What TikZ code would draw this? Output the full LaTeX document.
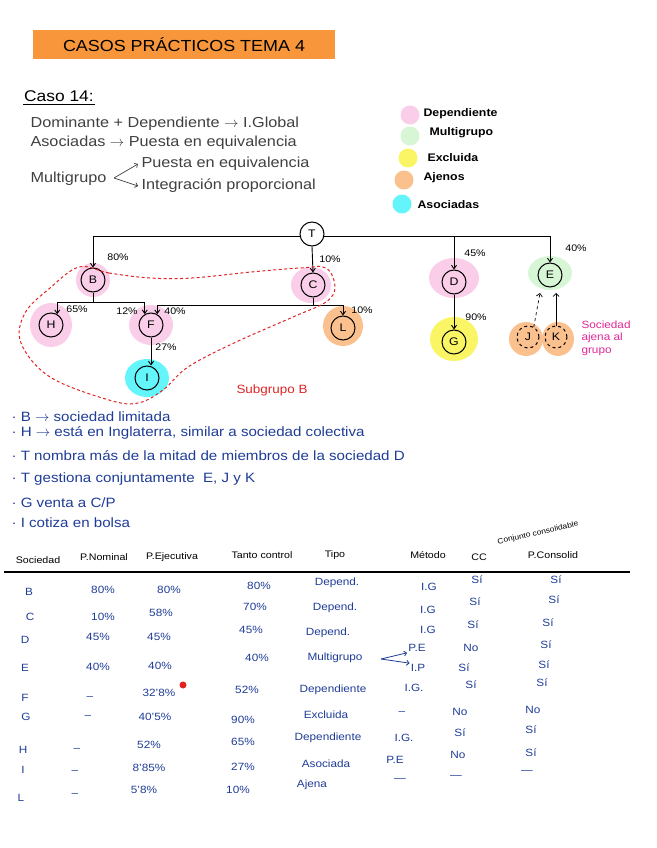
\documentclass[tikz,border=0pt]{standalone}
\usepackage{fontspec}
\setmainfont{Liberation Sans}[FakeStretch=1.12]
\usetikzlibrary{arrows.meta,backgrounds}
\definecolor{titleorange}{RGB}{248,150,60}
\definecolor{pinkblob}{RGB}{250,205,232}
\definecolor{greenblob}{RGB}{214,246,214}
\definecolor{yellowblob}{RGB}{250,245,100}
\definecolor{orangeblob}{RGB}{250,192,142}
\definecolor{cyanblob}{RGB}{100,245,250}
\definecolor{notablue}{RGB}{30,60,150}
\definecolor{subred}{RGB}{225,35,35}
\definecolor{ajenapink}{RGB}{225,40,150}

\begin{document}
\begin{tikzpicture}[x=1pt, y=-1pt,
    soc/.style={draw, circle, line width=1pt, minimum size=24pt, inner sep=0pt, font=\fontsize{11}{11}\selectfont},
    socajena/.style={soc, dashed, minimum size=22pt},
    arrow/.style={-{Straight Barb[length=3.5pt,width=5pt]}, line width=0.9pt},
    tramo/.style={line width=0.9pt},
    pct/.style={font=\fontsize{9.5}{9.5}\selectfont},
    apunte/.style={anchor=west, text=black!75, font=\fontsize{14.5}{14.5}\selectfont},
    nota/.style={anchor=west, text=notablue, font=\fontsize{13.5}{13.5}\selectfont},
    cell/.style={text=notablue, inner sep=1pt, font=\fontsize{10.5}{10.5}\selectfont},
    head/.style={inner sep=1pt, font=\fontsize{9.5}{9.5}\selectfont},
    leyenda/.style={circle, minimum size=19pt, inner sep=0pt, fill=#1},
    leytxt/.style={anchor=west, font=\bfseries\fontsize{11}{11}\selectfont},
    subgrupo/.style={subred, line width=1pt, dash pattern=on 3pt off 2.5pt}
]
    \useasboundingbox (0,0) rectangle (656,848);

    % Title
    \node[fill=titleorange, minimum width=302pt, minimum height=29pt, font=\fontsize{16}{16}\selectfont] (titulo) at (184,45) {CASOS PRÁCTICOS TEMA 4};

    % Caso 14
    \node[anchor=west, inner sep=1pt, font=\fontsize{15.5}{15.5}\selectfont] (caso) at (23,96) {Caso 14:};
    \draw[line width=1pt] ([yshift=-2pt]caso.south west) -- ([yshift=-2pt]caso.south east);

    \node[apunte] (dom) at (27,124) {Dominante + Dependiente $\rightarrow$ I.Global};
    \node[apunte] (aso) at (27,143) {Asociadas $\rightarrow$ Puesta en equivalencia};
    \node[apunte] (mul) at (27,179) {Multigrupo};
    \node[apunte] (mulpe) at (138,164) {Puesta en equivalencia};
    \node[apunte] (mulip) at (138,186) {Integración proporcional};
    \coordinate (mulv) at (114,178);
    \draw[-{Straight Barb[length=2.5pt]}, black!75, line width=0.7pt] (mulv) -- (mulpe.west);
    \draw[-{Straight Barb[length=2.5pt]}, black!75, line width=0.7pt] (mulv) -- (mulip.west);

    % Legend
    \node[leyenda=pinkblob] (legdep) at (410,115) {};
    \node[leyenda=greenblob] (legmul) at (410,136) {};
    \node[leyenda=yellowblob] (legexc) at (408,158) {};
    \node[leyenda=orangeblob] (legaje) at (404,180) {};
    \node[leyenda=cyanblob] (legaso) at (402,204) {};
    \node[leytxt] (legdeptxt) at (420,114) {Dependiente};
    \node[leytxt] (legmultxt) at (426,133) {Multigrupo};
    \node[leytxt] (legexctxt) at (424,158) {Excluida};
    \node[leytxt] (legajetxt) at (420,178) {Ajenos};
    \node[leytxt] (legasotxt) at (414,205) {Asociadas};

    % Group tree
    \node[soc] (T) at (312,234) {T};
    \node[soc] (B) at (93,280) {B};
    \node[soc] (C) at (313,285) {C};
    \node[soc] (D) at (454,282) {D};
    \node[soc] (E) at (550,275) {E};
    \node[soc] (H) at (51,325) {H};
    \node[soc] (F) at (151,325) {F};
    \node[soc] (L) at (343,328) {L};
    \node[soc] (G) at (454,342) {G};
    \node[soc] (I) at (147,378) {I};
    \node[socajena] (J) at (528,337) {J};
    \node[socajena] (K) at (556,337) {K};

    \begin{scope}[on background layer]
        \fill[pinkblob] (B) ellipse (17pt and 17pt);
        \fill[pinkblob] ([xshift=-2pt]C) ellipse (20pt and 18pt);
        \fill[pinkblob] ([yshift=4pt]D) ellipse (25pt and 20pt);
        \fill[greenblob] ([yshift=2pt]E) ellipse (22pt and 17pt);
        \fill[pinkblob] (H) ellipse (21pt and 22pt);
        \fill[pinkblob] (F) ellipse (22pt and 20pt);
        \fill[orangeblob] ([yshift=2pt]L) ellipse (20pt and 20pt);
        \fill[yellowblob] ([yshift=3pt]G) ellipse (24pt and 22pt);
        \fill[cyanblob] (I) ellipse (22pt and 19pt);
        \fill[orangeblob] ([xshift=-2pt,yshift=-2pt]J) ellipse (17pt and 17pt);
        \fill[orangeblob] ([xshift=2pt,yshift=-2pt]K) ellipse (16pt and 17pt);
    \end{scope}

    \draw[arrow] (T.190) -| (B.north);
    \draw[arrow] (T.south) -- (C.north);
    \draw[arrow] (T.350) -| (D.north);
    \draw[arrow] (T.350) -| (E.north);

    \coordinate (bsplit) at (93,302);
    \draw[tramo] (B.south) -- (bsplit);
    \draw[arrow] (bsplit) -| (H.60);
    \draw[arrow] (bsplit) -| (F.120);

    \coordinate (csplit) at (313,305);
    \draw[tramo] (C.south) -- (csplit);
    \draw[arrow] (csplit) -| (F.60);
    \draw[arrow] (csplit) -| (L.north);

    \draw[arrow] (F.south) -- (F.south |- I.north);
    \draw[arrow] (D.south) -- (G.north);

    \coordinate (ejt) at (540,293);
    \coordinate (ekt) at (556,293);
    \draw[-{Straight Barb[length=3pt]}, line width=0.7pt, dashed] (J.60) -- (ejt);
    \draw[-{Straight Barb[length=3pt]}, line width=0.7pt] (K.north) -- (ekt);

    \node[pct] (pB) at (118,257) {80\%};
    \node[pct] (pC) at (330,259) {10\%};
    \node[pct] (pD) at (475,253) {45\%};
    \node[pct] (pE) at (576,248) {40\%};
    \node[pct] (pH) at (77,309) {65\%};
    \node[pct] (pFb) at (127,311) {12\%};
    \node[pct] (pFc) at (175,311) {40\%};
    \node[pct] (pL) at (362,310) {10\%};
    \node[pct] (pI) at (166,347) {27\%};
    \node[pct] (pG) at (476,317) {90\%};

    \node[anchor=west, align=left, text=ajenapink, font=\fontsize{10.5}{12.5}\selectfont] (ajenotxt) at (578,338) {Sociedad\\ajena al\\grupo};

    % Subgroup B
    \draw[subgrupo] plot[smooth cycle, tension=0.6] coordinates {(79,267) (109,273) (150,278) (192,278) (251,272) (300,268) (326,268) (335,287) (326,302) (293,317) (234,343) (188,367) (163,390) (138,403) (109,400) (50,377) (21,343) (25,313) (50,288)};
    \node[text=subred, font=\fontsize{12}{12}\selectfont] (subB) at (272,390) {Subgrupo B};

    % Notes
    \node[nota] (n1) at (8,417) {· B $\rightarrow$ sociedad limitada};
    \node[nota] (n2) at (8,433) {· H $\rightarrow$ está en Inglaterra, similar a sociedad colectiva};
    \node[nota] (n3) at (8,456) {· T nombra más de la mitad de miembros de la sociedad D};
    \node[nota] (n4) at (8,479) {· T gestiona conjuntamente \ E, J y K};
    \node[nota] (n5) at (8,503) {· G venta a C/P};
    \node[nota] (n6) at (8,523) {· I cotiza en bolsa};

    \node[rotate=13, font=\fontsize{7.5}{7.5}\selectfont] (conj) at (538,533) {Conjunto consolidable};

    % Table
    \node[head] (hSoc) at (38,560) {Sociedad};
    \node[head] (hNom) at (104,557) {P.Nominal};
    \node[head] (hEje) at (172,557) {P.Ejecutiva};
    \node[head] (hCtl) at (262,555) {Tanto control};
    \node[head] (hTip) at (335,555) {Tipo};
    \node[head] (hMet) at (428,555) {Método};
    \node[head] (hCC) at (479,557) {CC};
    \node[head] (hCon) at (553,555) {P.Consolid};
    \draw[line width=1.1pt] (4,572) -- (630,572);

    \node[cell] (socB) at (29,592) {B};  \node[cell] (nomB) at (103,590) {80\%};  \node[cell] (ejeB) at (169,590) {80\%};  \node[cell] (ctlB) at (259,586) {80\%};
    \node[cell] (tipB) at (337,583) {Depend.};  \node[cell] (metB) at (429,587) {I.G};  \node[cell] (ccB) at (477,580) {Sí};  \node[cell] (conB) at (556,580) {Sí};

    \node[cell] (socC) at (30,617) {C};  \node[cell] (nomC) at (103,617) {10\%};  \node[cell] (ejeC) at (161,613) {58\%};  \node[cell] (ctlC) at (255,607) {70\%};
    \node[cell] (tipC) at (335,608) {Depend.};  \node[cell] (metC) at (428,610) {I.G};  \node[cell] (ccC) at (475,602) {Sí};  \node[cell] (conC) at (554,600) {Sí};

    \node[cell] (socD) at (25,640) {D};  \node[cell] (nomD) at (98,637) {45\%};  \node[cell] (ejeD) at (159,637) {45\%};  \node[cell] (ctlD) at (251,630) {45\%};
    \node[cell] (tipD) at (328,633) {Depend.};  \node[cell] (metD) at (428,630) {I.G};  \node[cell] (ccD) at (473,625) {Sí};  \node[cell] (conD) at (548,623) {Sí};

    \node[cell] (socE) at (25,668) {E};  \node[cell] (nomE) at (98,667) {40\%};  \node[cell] (ejeE) at (160,666) {40\%};  \node[cell] (ctlE) at (257,658) {40\%};
    \node[cell] (tipE) at (335,658) {Multigrupo};  \node[cell] (metEa) at (417,648) {P.E};  \node[cell] (metEb) at (418,668) {I.P};
    \node[cell] (ccEa) at (471,648) {No};  \node[cell] (ccEb) at (464,668) {Sí};  \node[cell] (conEa) at (546,645) {Sí};  \node[cell] (conEb) at (544,665) {Sí};
    \coordinate (tipEv) at (381,659);
    \draw[-{Straight Barb[length=2.5pt]}, notablue, line width=0.8pt] (tipEv) -- (metEa.south west);
    \draw[-{Straight Barb[length=2.5pt]}, notablue, line width=0.8pt] (tipEv) -- (metEb.north west);

    \node[cell] (socF) at (25,698) {F};  \node[cell] (nomF) at (90,698) {–};  \node[cell] (ejeF) at (159,693) {32'8\%};  \node[cell] (ctlF) at (247,690) {52\%};
    \node[cell] (tipF) at (333,690) {Dependiente};  \node[cell] (metF) at (414,688) {I.G.};  \node[cell] (ccF) at (471,685) {Sí};  \node[cell] (conF) at (542,683) {Sí};
    \node[circle, fill=subred, minimum size=7pt, inner sep=0pt] (marcaF) at (183,685) {};

    \node[cell] (socG) at (26,717) {G};  \node[cell] (nomG) at (88,717) {–};  \node[cell] (ejeG) at (155,717) {40'5\%};  \node[cell] (ctlG) at (243,720) {90\%};
    \node[cell] (tipG) at (326,715) {Excluida};  \node[cell] (metG) at (402,713) {–};  \node[cell] (ccG) at (460,712) {No};  \node[cell] (conG) at (533,710) {No};

    \node[cell] (socH) at (23,750) {H};  \node[cell] (nomH) at (77,750) {–};  \node[cell] (ejeH) at (149,745) {52\%};  \node[cell] (ctlH) at (243,742) {65\%};
    \node[cell] (tipH) at (328,738) {Dependiente};  \node[cell] (metH) at (404,738) {I.G.};  \node[cell] (ccH) at (460,733) {Sí};  \node[cell] (conH) at (531,730) {Sí};

    \node[cell] (socI) at (23,770) {I};  \node[cell] (nomI) at (75,772) {–};  \node[cell] (ejeI) at (149,768) {8'85\%};  \node[cell] (ctlI) at (243,767) {27\%};
    \node[cell] (tipI) at (326,764) {Asociada};  \node[cell] (metI) at (395,760) {P.E};  \node[cell] (ccI) at (458,755) {No};  \node[cell] (conI) at (531,753) {Sí};

    \node[cell] (socL) at (21,798) {L};  \node[cell] (nomL) at (75,795) {–};  \node[cell] (ejeL) at (144,790) {5'8\%};  \node[cell] (ctlL) at (238,790) {10\%};
    \node[cell] (tipL) at (312,785) {Ajena};  \node[cell] (metL) at (400,780) {—};  \node[cell] (ccL) at (456,777) {—};  \node[cell] (conL) at (527,772) {—};
\end{tikzpicture}
\end{document}
